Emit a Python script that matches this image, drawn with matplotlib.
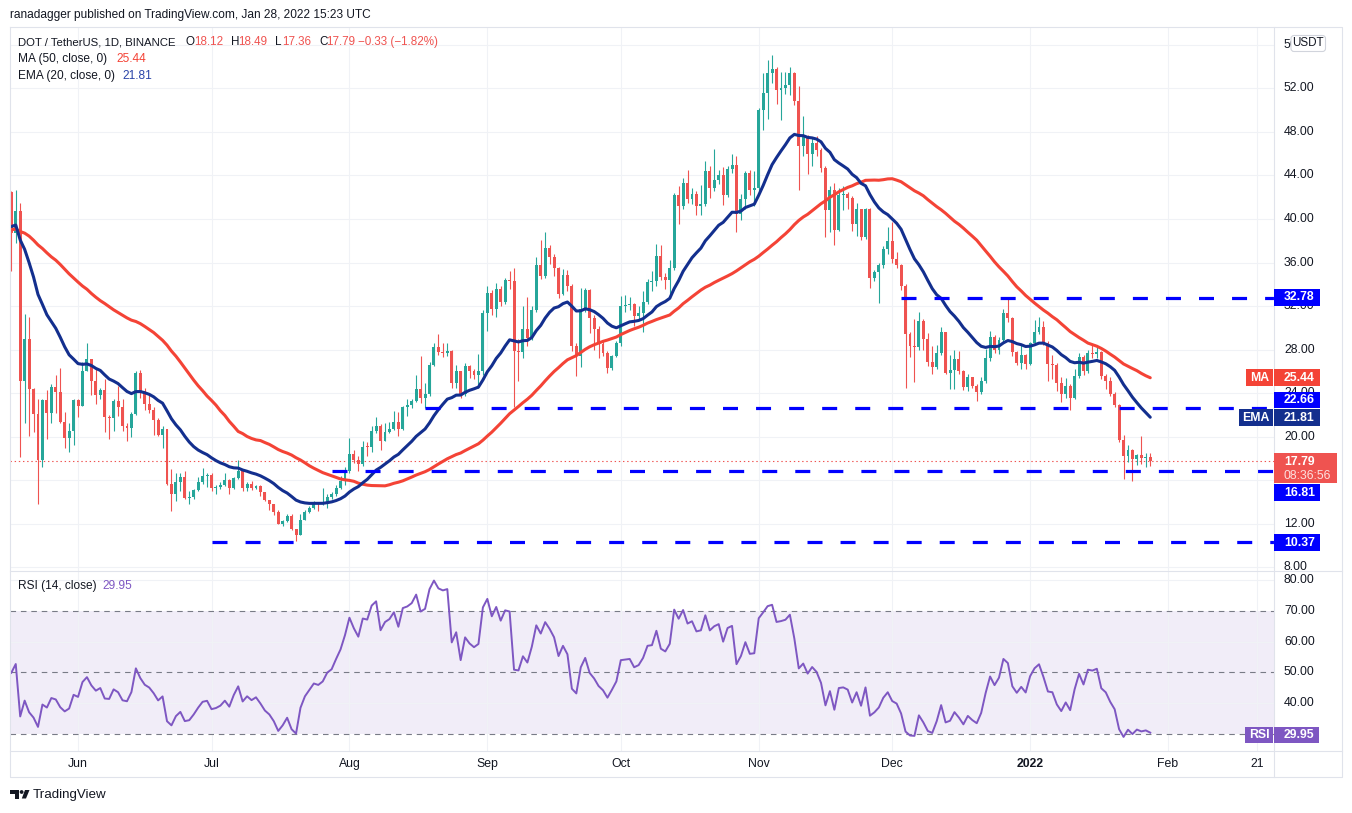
import numpy as np
import pandas as pd
import matplotlib
matplotlib.use("Agg")
import matplotlib.pyplot as plt
from matplotlib.patches import Rectangle, FancyBboxPatch, Polygon, Circle

plt.rcParams['font.family'] = ['Liberation Sans', 'DejaVu Sans']
plt.rcParams['lines.scale_dashes'] = False

# ---- data ----
start = "2021-05-17"

# estimated closes of the 50 days before the window, only used to seed MA/EMA/RSI
warmup_close = [35, 36, 37, 36.5, 38, 41, 39.5, 40,
                42, 43, 39.5, 41, 41.5, 42, 42.5, 41.5, 44, 42,
                44.5, 41, 40, 35, 36, 38, 35, 33, 33.5, 32.5, 32,
                34, 36, 36.5, 35.5, 38, 38.5,
                38, 42, 39, 43, 42, 42.5, 43, 41.5, 39, 41, 35.5, 37, 41.5, 37.5, 42.5]

close = [38.7, 40.7, 25.1, 29.0, 24.4, 22.1, 17.9, 23.4, 22.2, 24.6,
         24.1, 21.4, 19.9, 20.5, 23.4, 22.8, 26.0, 27.1, 25.1, 23.8,
         24.3, 21.8, 21.7, 23.3, 22.7, 21.0, 20.8, 22.1, 25.9, 24.2,
         23.0, 22.5, 21.5, 20.2, 20.7, 15.7, 14.7, 15.8, 16.3, 14.4,
         14.5, 15.1, 15.8, 16.4, 16.5, 15.3, 15.4, 15.6, 16.0, 15.3,
         16.2, 16.9, 15.3, 15.7, 15.3, 15.5, 14.9, 14.2, 13.8, 13.1,
         12.0, 12.3, 12.7, 11.5, 11.0, 12.4, 13.1, 13.5, 13.9, 13.8,
         14.0, 14.5, 14.7, 15.3, 15.9, 16.9, 18.4, 17.9, 17.5, 19.1,
         19.05, 20.5, 21.0, 19.6, 20.4, 20.7, 21.4, 20.7, 22.7, 22.9,
         23.3, 24.4, 23.6, 23.9, 26.6, 28.2, 27.8, 27.7, 27.9, 24.9,
         26.0, 23.9, 26.5, 26.0, 25.7, 26.05, 31.4, 33.2, 31.75, 33.6,
         32.4, 34.4, 34.3, 27.9, 27.8, 29.9, 29.1, 31.6, 35.8, 34.8,
         37.3, 36.5, 35.5, 33.1, 34.9, 33.8, 28.3, 27.4, 31.7, 33.5,
         30.9, 29.9, 28.5, 27.7, 26.3, 27.4, 28.6, 32.0, 32.1, 32.2,
         31.1, 31.4, 32.4, 34.2, 34.3, 36.6, 34.7, 34.4, 35.5, 42.2,
         41.2, 43.3, 41.8, 42.3, 41.2, 41.4, 44.4, 42.8, 43.6, 44.0,
         42.2, 44.6, 45.0, 40.5, 41.8, 44.2, 42.7, 42.8, 50.0, 51.6,
         53.4, 53.8, 51.8, 52.0, 52.3, 53.4, 50.8, 46.7, 47.5, 46.0,
         47.0, 46.3, 44.7, 40.8, 42.7, 39.0, 42.2, 42.3, 41.9, 39.5,
         40.9, 38.3, 40.9, 34.6, 35.1, 35.8, 37.2, 38.0, 36.3, 35.8,
         33.8, 29.4, 28.3, 28.2, 30.6, 29.0, 26.9, 26.4, 27.7, 29.6,
         25.9, 26.1, 27.1, 26.0, 24.6, 25.5, 24.7, 24.1, 25.1, 27.2,
         29.2, 28.0, 28.9, 31.4, 30.9, 27.8, 26.8, 27.5, 26.7, 28.6,
         29.6, 30.1, 28.6, 26.7, 26.6, 24.9, 23.9, 24.7, 23.6, 25.6,
         27.3, 26.0, 27.7, 27.6, 27.8, 25.6, 25.1, 23.9, 22.9, 19.7,
         18.2, 18.8, 18.0, 18.35, 18.05, 18.12, 17.79]

high = [42.6, 42.7, 41.5, 31.3, 31.0, 24.5, 23.5, 23.5, 24.3, 24.8,
        25.7, 26.3, 22.3, 21.3, 23.5, 23.5, 26.9, 28.6, 27.1, 26.3,
        24.5, 25.3, 22.0, 23.5, 24.7, 23.5, 21.3, 22.3, 26.0, 26.1,
        24.5, 23.9, 22.7, 21.7, 21.0, 20.7, 17.0, 16.7, 16.7, 16.9,
        15.0, 15.2, 16.3, 17.1, 16.7, 16.7, 15.6, 15.8, 16.7, 16.1,
        16.3, 17.9, 17.0, 15.8, 15.9, 15.6, 15.6, 14.9, 14.2, 13.8,
        13.3, 12.4, 12.95, 12.9, 11.5, 12.9, 13.3, 13.65, 14.1, 14.0,
        15.3, 14.7, 14.9, 15.6, 16.4, 17.2, 19.9, 18.8, 18.2, 19.6,
        19.5, 21.0, 21.8, 21.2, 21.3, 21.4, 22.4, 22.3, 22.8, 23.5,
        23.5, 25.7, 27.4, 24.95, 26.9, 28.6, 29.4, 28.6, 28.6, 28.0,
        26.6, 26.0, 26.8, 26.6, 26.2, 27.6, 31.6, 33.8, 33.5, 34.1,
        33.8, 34.6, 35.2, 35.5, 29.0, 32.0, 32.8, 32.0, 36.5, 38.1,
        38.8, 37.6, 36.8, 35.6, 35.4, 35.3, 34.0, 28.6, 33.7, 33.7,
        33.6, 31.2, 30.2, 28.9, 27.9, 27.5, 28.8, 32.9, 33.0, 32.8,
        32.3, 32.0, 33.4, 34.5, 35.2, 37.7, 37.6, 35.0, 36.2, 42.4,
        43.0, 43.8, 44.5, 42.8, 42.6, 43.1, 45.3, 44.9, 46.4, 44.5,
        44.8, 44.9, 46.0, 45.8, 42.3, 44.4, 44.5, 44.4, 50.2, 53.4,
        54.6, 55.1, 54.0, 53.5, 53.5, 54.0, 53.5, 52.2, 49.5, 47.7,
        47.5, 47.6, 46.5, 44.9, 43.0, 43.3, 42.8, 43.0, 42.5, 42.1,
        41.5, 40.9, 41.0, 41.0, 35.3, 36.0, 37.5, 39.3, 39.7, 37.0,
        35.9, 34.0, 29.6, 30.8, 31.5, 30.8, 29.5, 28.3, 28.4, 30.1,
        29.6, 27.5, 28.0, 27.9, 26.1, 25.8, 25.5, 24.8, 25.5, 28.1,
        29.7, 29.3, 29.2, 31.7, 32.8, 31.0, 27.9, 28.4, 27.6, 28.7,
        30.7, 31.0, 30.66, 28.8, 27.5, 26.8, 25.5, 25.4, 24.8, 26.2,
        27.7, 27.5, 28.0, 28.4, 28.4, 27.9, 25.8, 25.5, 24.1, 23.0,
        20.2, 19.2, 18.9, 18.4, 20.1, 18.5, 18.49]

low = [35.2, 37.8, 18.1, 21.3, 20.1, 20.4, 13.8, 17.2, 19.8, 21.3,
       22.2, 21.3, 19.0, 18.6, 19.2, 21.8, 22.8, 26.0, 23.8, 23.0,
       23.5, 20.4, 19.8, 20.5, 21.9, 20.5, 19.6, 20.0, 22.0, 23.6,
       22.5, 22.2, 20.2, 20.1, 19.0, 15.6, 13.2, 14.1, 15.0, 14.3,
       13.8, 14.3, 15.0, 15.7, 15.4, 15.0, 14.75, 15.2, 15.5, 14.7,
       15.2, 16.1, 15.0, 15.0, 15.1, 15.2, 14.6, 14.1, 13.3, 12.8,
       12.0, 11.8, 12.2, 11.45, 10.4, 11.0, 12.4, 13.0, 13.4, 13.2,
       13.7, 13.5, 14.3, 14.6, 15.2, 15.6, 16.7, 17.6, 16.9, 17.3,
       18.2, 18.6, 20.3, 18.8, 19.9, 20.3, 20.6, 20.1, 20.6, 21.9,
       22.6, 23.2, 23.1, 22.6, 23.7, 26.5, 27.5, 27.3, 27.4, 24.5,
       24.5, 23.6, 23.7, 25.4, 25.3, 24.5, 25.7, 29.7, 31.2, 31.0,
       32.0, 32.2, 33.6, 22.7, 25.1, 27.2, 28.3, 28.9, 31.5, 34.5,
       34.6, 35.9, 34.8, 32.7, 33.0, 33.4, 27.9, 25.6, 26.4, 31.5,
       29.5, 28.0, 27.2, 27.4, 25.9, 26.1, 27.3, 28.3, 31.5, 31.6,
       30.2, 30.8, 29.6, 32.2, 33.4, 33.8, 34.4, 33.6, 32.9, 35.3,
       39.5, 40.9, 41.5, 41.4, 40.4, 40.4, 41.2, 41.9, 42.6, 43.2,
       41.3, 42.0, 44.2, 38.8, 39.9, 40.9, 42.2, 41.2, 42.5, 48.2,
       49.2, 52.5, 50.6, 49.1, 51.5, 51.4, 50.5, 42.7, 45.8, 44.1,
       44.9, 45.8, 44.3, 38.3, 38.8, 37.6, 38.9, 40.8, 40.9, 38.9,
       38.4, 38.1, 38.2, 33.7, 34.3, 32.3, 35.5, 36.8, 36.0, 35.5,
       33.5, 24.5, 27.3, 25.0, 28.0, 28.0, 26.5, 25.8, 26.2, 27.5,
       25.8, 24.4, 24.4, 25.8, 24.3, 24.2, 24.5, 23.3, 23.9, 24.9,
       27.0, 27.7, 27.6, 28.6, 30.5, 27.4, 26.6, 26.2, 26.2, 26.6,
       28.4, 29.4, 28.4, 25.1, 25.3, 24.2, 23.15, 23.6, 22.5, 23.5,
       25.4, 25.7, 25.9, 27.2, 27.2, 25.3, 24.4, 23.7, 22.7, 19.5,
       16.1, 17.7, 15.9, 17.4, 17.5, 17.2, 17.36]

levels = [32.78, 22.66, 16.81, 10.37]
level_from = ["2021-12-03", "2021-08-18", "2021-07-28", "2021-07-01"]

tick_dates = ["2021-06-01", "2021-07-01", "2021-08-01", "2021-09-01", "2021-10-01",
              "2021-11-01", "2021-12-01", "2022-01-01", "2022-02-01", "2022-02-21"]
tick_names = ["Jun", "Jul", "Aug", "Sep", "Oct", "Nov", "Dec", "2022", "Feb", "21"]

# price scale labels that are visible (16.00 and RSI 30.00 sit under value tags)
price_labels = [8, 12, 20, 24, 28, 32, 36, 40, 44, 48, 52, 56]
rsi_labels = [40, 50, 60, 70, 80]

ohlc = ["18.12", "18.49", "17.36", "17.79"]
change = "\u22120.33 (\u22121.82%)"
ma_last = "25.44"
ema_last = "21.81"
rsi_last = "29.95"
countdown = "08:36:56"

# ---- indicators ----
n = len(close)
full = pd.Series(warmup_close + close, dtype=float)
ma = full.rolling(50).mean().values[-n:]
ema = full.ewm(span=20, adjust=False).mean().values[-n:]
delta = full.diff()
up = delta.clip(lower=0).ewm(alpha=1 / 14, adjust=False).mean()
dn = (-delta.clip(upper=0)).ewm(alpha=1 / 14, adjust=False).mean()
rsi = (100 - 100 / (1 + up / dn)).values[-n:]

close = np.array(close)
opens = np.array([warmup_close[-1]] + list(close[:-1]))
high = np.maximum(np.array(high), np.maximum(opens, close))
low = np.minimum(np.array(low), np.minimum(opens, close))
days = np.arange(n)
t0 = pd.Timestamp(start)


def day_of(s):
    return (pd.Timestamp(s) - t0).days


ticks = [day_of(t) for t in tick_dates]

# ---- layout (pixels) ----
W, H = 1352, 813
PX0, PXD = 11.3, 4.449
XL, XR = 10, 1274
Y_TOP, Y_SEP, Y_BOT, Y_FRAME = 27, 570.7, 750.7, 777
xlim = ((XL - PX0) / PXD, (XR - PX0) / PXD)
price_lim = (7.70, 57.63)
rsi_lim = (24.6, 83.0)

UP, DOWN = '#26a69a', '#ef5350'
MA_C, EMA_C, RSI_C, LVL_C = '#f44336', '#132f8e', '#7e57c2', '#0000ff'
TXT = '#131722'
GRID = '#f0f2f6'


def rect(x0, y0, x1, y1):
    return [x0 / W, 1 - y1 / H, (x1 - x0) / W, (y1 - y0) / H]


fig = plt.figure(figsize=(W / 100, H / 100), dpi=100, facecolor='white')

ax = fig.add_axes(rect(XL, Y_TOP, XR, Y_SEP))
ax.set_xlim(*xlim)
ax.set_ylim(*price_lim)
ax.set_yticks(np.arange(8, 57, 4))
ax.set_xticks(ticks)
ax.grid(True, color=GRID, lw=0.8)
ax.tick_params(length=0, labelbottom=False, labelleft=False)
for s in ax.spines.values():
    s.set_visible(False)

cols = np.where(close >= opens, UP, DOWN)
ax.vlines(days, low, high, colors=cols, lw=0.8, zorder=3)
body = np.maximum(np.abs(close - opens), 0.08)
ax.bar(days, body, bottom=np.minimum(opens, close), width=0.66, color=cols, lw=0, zorder=3)

ax.axhline(close[-1], color=DOWN, lw=0.8, ls=(0, (1, 2)), zorder=2)
ax.plot(days, ma, color=MA_C, lw=2.2, zorder=4, solid_capstyle='round')
ax.plot(days, ema, color=EMA_C, lw=2.2, zorder=4, solid_capstyle='round')
for lv, frm in zip(levels, level_from):
    ax.plot([day_of(frm), xlim[1]], [lv, lv], color=LVL_C, lw=2.3, ls=(0, (10.8, 13)), zorder=5)

# RSI pane
axr = fig.add_axes(rect(XL, Y_SEP, XR, Y_BOT))
axr.set_xlim(*xlim)
axr.set_ylim(*rsi_lim)
axr.set_yticks([40, 60, 80])
axr.set_xticks(ticks)
axr.set_xticklabels(tick_names)
axr.grid(True, color=GRID, lw=0.8)
axr.tick_params(axis='y', length=0, labelleft=False)
axr.tick_params(axis='x', length=0, pad=5, labelsize=8.8, labelcolor=TXT)
axr.get_xticklabels()[7].set_fontweight('bold')
for s in axr.spines.values():
    s.set_visible(False)
axr.axhspan(30, 70, color=RSI_C, alpha=0.1, lw=0)
for v in (30, 50, 70):
    axr.axhline(v, color='#787b86', lw=0.8, ls=(0, (4, 3.5)))
axr.plot(days, rsi, color=RSI_C, lw=1.4, zorder=4)

# price scales
axp = fig.add_axes(rect(XR, Y_TOP, 1342, Y_SEP))
axp.set_xlim(0, 68)
axp.set_ylim(*price_lim)
axp.axis('off')
for v in price_labels:
    axp.text(10, v, f"{v:.2f}", ha='left', va='center', fontsize=8.8, color=TXT, clip_on=True)

axrp = fig.add_axes(rect(XR, Y_SEP, 1342, Y_BOT))
axrp.set_xlim(0, 68)
axrp.set_ylim(*rsi_lim)
axrp.axis('off')
for v in rsi_labels:
    axrp.text(10, v, f"{v:.2f}", ha='left', va='center', fontsize=8.8, color=TXT, clip_on=True)

# overlay in pixel coordinates
ov = fig.add_axes([0, 0, 1, 1])
ov.set_xlim(0, W)
ov.set_ylim(H, 0)
ov.axis('off')

fr = dict(color='#e0e3eb', lw=0.8)
ov.plot([XL, 1342, 1342, XL, XL], [Y_TOP, Y_TOP, Y_FRAME, Y_FRAME, Y_TOP], **fr)
ov.plot([XR, XR], [Y_TOP, Y_FRAME], **fr)
ov.plot([XL, 1342], [Y_SEP, Y_SEP], **fr)
ov.plot([XL, 1342], [Y_BOT, Y_BOT], **fr)


def box(x0, y0, x1, y1, fc, label=None, tx=None):
    ov.add_patch(Rectangle((x0, y0), x1 - x0, y1 - y0, fc=fc, ec='none', zorder=5))
    if label is not None:
        ov.text(tx if tx is not None else 1284, (y0 + y1) / 2, label, color='white', fontsize=8.8,
                fontweight='bold', ha='left' if tx is None else 'center', va='center', zorder=6)


box(1274, 289, 1320, 305.7, LVL_C, f"{levels[0]:.2f}")
box(1246, 369, 1272.7, 386, MA_C, "MA", tx=1259.5)
box(1274, 369, 1320, 386, MA_C, ma_last)
box(1274, 392, 1320, 408, LVL_C, f"{levels[1]:.2f}")
box(1239, 409, 1272.7, 426, EMA_C, "EMA", tx=1256)
box(1274, 409, 1320, 426, EMA_C, ema_last)
box(1274, 453, 1337, 483, DOWN)
ov.text(1284, 461.7, ohlc[3], color='white', fontsize=8.8, fontweight='bold', va='center', zorder=6)
ov.text(1284, 475.7, countdown, color='#fde0df', fontsize=8.8, va='center', zorder=6)
box(1274, 484, 1320, 501, LVL_C, f"{levels[2]:.2f}")
box(1274, 534, 1320, 551, LVL_C, f"{levels[3]:.2f}")
box(1245, 726.7, 1272.7, 743.3, RSI_C, "RSI", tx=1259)
box(1274, 726.7, 1319, 743.3, RSI_C, rsi_last)

ov.add_patch(FancyBboxPatch((1291, 35.5), 34.5, 16, boxstyle="round,pad=0,rounding_size=3",
                            fc='white', ec='#d1d4dc', lw=0.8, zorder=5))
ov.text(1308.2, 43.5, "USDT", color=TXT, fontsize=8.4, ha='center', va='center', zorder=6)

# header and legends
ov.text(10, 15, "ranadagger published on TradingView.com, Jan 28, 2022 15:23 UTC",
        fontsize=8.6, color=TXT, va='center')
y1 = 42.3
ov.text(18.3, y1, "DOT / TetherUS, 1D, BINANCE", fontsize=8.2, color=TXT, va='center')
for x, s in zip([185, 231, 275, 319], ["O", "H", "L", "C"]):
    ov.text(x, y1, s, fontsize=8.4, color=TXT, va='center')
for x, s in zip([194.5, 238, 282, 326], ohlc):
    ov.text(x, y1, s, fontsize=8.4, color=DOWN, va='center')
ov.text(358, y1, change, fontsize=8.4, color=DOWN, va='center')
ov.text(18.3, 59, "MA (50, close, 0)", fontsize=8.6, color=TXT, va='center')
ov.text(116, 59, ma_last, fontsize=8.6, color=MA_C, va='center')
ov.text(18.3, 76, "EMA (20, close, 0)", fontsize=8.6, color=TXT, va='center')
ov.text(122, 76, ema_last, fontsize=8.6, color='#2a44a8', va='center')
ov.text(18.3, 586, "RSI (14, close)", fontsize=8.6, color=TXT, va='center')
ov.text(102, 586, rsi_last, fontsize=8.6, color=RSI_C, va='center')

# TradingView logo
ov.add_patch(Rectangle((10, 790), 9, 3.8, fc=TXT, ec='none'))
ov.add_patch(Rectangle((15.2, 790), 3.8, 8.5, fc=TXT, ec='none'))
ov.add_patch(Circle((21.6, 792), 1.9, fc=TXT, ec='none'))
ov.add_patch(Polygon([(25, 790), (29.5, 790), (26, 798.5), (21.8, 798.5)], closed=True, fc=TXT, ec='none'))
ov.text(33, 795, "TradingView", fontsize=9.6, color=TXT, va='center')

fig.savefig("out.png", dpi=100, facecolor='white')
